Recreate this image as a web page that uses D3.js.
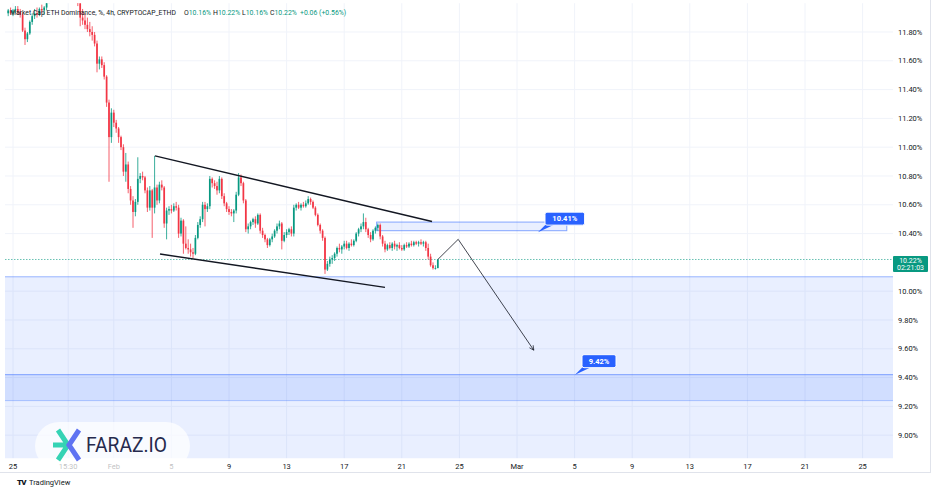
<!DOCTYPE html>
<html lang="en">
<head>
	<meta charset="utf-8">
	<title>ETH Dominance 4h</title>
	<script src='https://d3js.org/d3.v7.min.js'></script>
	<style>
		body { margin: 0; background: #fff; }
		text { font-family: Roboto, "Noto Sans", sans-serif; }
	</style>
</head>
<body>
	<div id="chart"></div>
	<script>
		// 4h candles, first one opens 2025-01-24 16:00 UTC
		let firstCandle = Date.UTC(2025, 0, 24, 16);
		let open = [
			11.93,11.95,11.93,11.95,11.96,11.94,11.92,11.81,11.75,11.79,
			11.87,11.91,11.93,11.92,11.96,11.95,11.97,12.02,12.06,12.10,
			12.13,12.11,12.14,12.17,12.15,12.12,12.09,12.11,12.06,12.03,
			12.00,11.90,11.88,11.85,11.82,11.80,11.78,11.72,11.58,11.61,
			11.57,11.49,11.31,11.07,11.24,11.17,11.13,11.07,11.00,10.83,
			10.88,10.71,10.63,10.55,10.62,10.78,10.80,10.79,10.70,10.58,
			10.70,10.58,10.72,10.63,10.74,10.72,10.47,10.56,10.57,10.56,
			10.59,10.58,10.40,10.49,10.33,10.30,10.29,10.27,10.26,10.37,
			10.46,10.50,10.60,10.57,10.59,10.78,10.75,10.73,10.70,10.78,
			10.66,10.61,10.57,10.55,10.54,10.56,10.67,10.79,10.75,10.63,
			10.43,10.45,10.48,10.50,10.47,10.53,10.42,10.39,10.36,10.32,
			10.36,10.38,10.42,10.45,10.47,10.35,10.39,10.41,10.43,10.40,
			10.58,10.60,10.58,10.60,10.59,10.61,10.64,10.62,10.58,10.53,
			10.46,10.42,10.37,10.15,10.19,10.22,10.23,10.26,10.30,10.29,
			10.31,10.33,10.30,10.33,10.32,10.35,10.40,10.43,10.45,10.48,
			10.43,10.39,10.36,10.42,10.44,10.46,10.38,10.33,10.29,10.32,
			10.30,10.33,10.31,10.32,10.30,10.29,10.32,10.31,10.33,10.32,
			10.34,10.33,10.34,10.33,10.34,10.30,10.24,10.18,10.16,10.16];
		let high = [
			11.96,11.97,11.96,11.98,11.98,11.96,11.93,11.83,11.80,11.88,
			11.93,11.96,11.97,11.97,11.99,11.98,12.03,12.08,12.12,12.15,
			12.18,12.16,12.20,12.21,12.19,12.16,12.13,12.14,12.09,12.06,
			12.02,11.96,11.93,11.90,11.87,11.84,11.80,11.74,11.63,11.63,
			11.59,11.50,11.33,11.27,11.26,11.19,11.14,11.08,11.02,10.96,
			10.90,10.73,10.66,10.64,10.93,10.82,10.83,10.80,10.72,10.73,
			10.71,10.94,10.74,10.76,10.77,10.73,10.58,10.59,10.60,10.61,
			10.62,10.60,10.51,10.50,10.45,10.36,10.33,10.30,10.39,10.48,
			10.52,10.62,10.62,10.61,10.80,10.79,10.77,10.76,10.80,10.79,
			10.68,10.62,10.59,10.57,10.57,10.69,10.82,10.81,10.76,10.64,
			10.47,10.49,10.51,10.52,10.54,10.54,10.44,10.40,10.37,10.37,
			10.40,10.43,10.47,10.49,10.48,10.41,10.43,10.44,10.45,10.60,
			10.61,10.62,10.61,10.62,10.63,10.66,10.65,10.63,10.59,10.54,
			10.47,10.43,10.38,10.21,10.24,10.25,10.27,10.31,10.33,10.32,
			10.35,10.35,10.34,10.36,10.36,10.41,10.44,10.47,10.54,10.51,
			10.44,10.41,10.43,10.45,10.47,10.47,10.39,10.35,10.33,10.34,
			10.34,10.35,10.33,10.34,10.32,10.33,10.34,10.34,10.35,10.35,
			10.35,10.35,10.36,10.35,10.35,10.33,10.26,10.20,10.18,10.22];
		let low = [
			11.91,11.92,11.91,11.93,11.92,11.90,11.80,11.71,11.73,11.78,
			11.85,11.89,11.90,11.91,11.93,11.92,11.95,12.00,12.04,12.07,
			12.09,12.08,12.12,12.12,12.10,12.07,12.05,12.04,12.01,11.98,
			11.84,11.85,11.82,11.80,11.77,11.74,11.70,11.52,11.54,11.55,
			11.47,11.28,10.76,11.03,11.14,11.10,11.03,10.98,10.80,10.76,
			10.68,10.60,10.44,10.52,10.60,10.75,10.77,10.68,10.55,10.56,
			10.37,10.54,10.60,10.61,10.70,10.44,10.36,10.53,10.54,10.55,
			10.56,10.37,10.38,10.26,10.29,10.26,10.24,10.23,10.25,10.36,
			10.44,10.48,10.45,10.55,10.57,10.72,10.71,10.67,10.68,10.64,
			10.59,10.55,10.53,10.52,10.48,10.54,10.66,10.73,10.61,10.41,
			10.40,10.43,10.46,10.44,10.46,10.40,10.37,10.34,10.30,10.31,
			10.34,10.37,10.40,10.43,10.29,10.34,10.37,10.39,10.38,10.38,
			10.56,10.57,10.56,10.58,10.58,10.60,10.60,10.57,10.52,10.45,
			10.40,10.35,10.12,10.14,10.17,10.19,10.21,10.24,10.27,10.26,
			10.29,10.29,10.28,10.31,10.31,10.34,10.38,10.41,10.43,10.41,
			10.37,10.34,10.35,10.40,10.42,10.36,10.31,10.27,10.28,10.29,
			10.28,10.29,10.28,10.29,10.28,10.28,10.30,10.30,10.31,10.31,
			10.32,10.31,10.32,10.31,10.28,10.22,10.17,10.15,10.15,10.16];
		let close = [
			11.95,11.93,11.95,11.96,11.94,11.92,11.81,11.75,11.79,11.87,
			11.91,11.93,11.92,11.96,11.95,11.97,12.02,12.06,12.10,12.13,
			12.11,12.14,12.17,12.15,12.12,12.09,12.11,12.06,12.03,12.00,
			11.90,11.88,11.85,11.82,11.80,11.78,11.72,11.58,11.61,11.57,
			11.49,11.31,11.07,11.24,11.17,11.13,11.07,11.00,10.83,10.88,
			10.71,10.63,10.55,10.62,10.78,10.80,10.79,10.70,10.58,10.70,
			10.58,10.72,10.63,10.74,10.72,10.47,10.56,10.57,10.56,10.59,
			10.58,10.40,10.49,10.33,10.30,10.29,10.27,10.26,10.37,10.46,
			10.50,10.60,10.57,10.59,10.78,10.75,10.73,10.70,10.78,10.66,
			10.61,10.57,10.55,10.54,10.56,10.67,10.79,10.75,10.63,10.43,
			10.45,10.48,10.50,10.47,10.53,10.42,10.39,10.36,10.32,10.36,
			10.38,10.42,10.45,10.47,10.35,10.39,10.41,10.43,10.40,10.58,
			10.60,10.58,10.60,10.59,10.61,10.64,10.62,10.58,10.53,10.46,
			10.42,10.37,10.15,10.19,10.22,10.23,10.26,10.30,10.29,10.31,
			10.33,10.30,10.33,10.32,10.35,10.40,10.43,10.45,10.48,10.43,
			10.39,10.36,10.42,10.44,10.46,10.38,10.33,10.29,10.32,10.30,
			10.33,10.31,10.32,10.30,10.29,10.32,10.31,10.33,10.32,10.34,
			10.33,10.34,10.33,10.34,10.30,10.24,10.18,10.16,10.16,10.22];

		// axis ticks
		let yTicks = [9.0, 9.2, 9.4, 9.6, 9.8, 10.0, 10.4, 10.6, 10.8, 11.0, 11.2, 11.4, 11.6, 11.8];
		let xTickDates = ["2025-01-25T00:00Z", "2025-01-28T20:00Z", "2025-02-01T00:00Z", "2025-02-05T00:00Z",
			"2025-02-09T00:00Z", "2025-02-13T00:00Z", "2025-02-17T00:00Z", "2025-02-21T00:00Z",
			"2025-02-25T00:00Z", "2025-03-01T00:00Z", "2025-03-05T00:00Z", "2025-03-09T00:00Z",
			"2025-03-13T00:00Z", "2025-03-17T00:00Z", "2025-03-21T00:00Z", "2025-03-25T00:00Z"];
		let xTickLabels = ["25", "15:30", "Feb", "5", "9", "13", "17", "21", "25", "Mar", "5", "9", "13", "17", "21", "25"];

		// header legend
		let legendTitle = "Market Cap ETH Dominance, %, 4h, CRYPTOCAP_ETHD";
		let legendKeys = ["O", "H", "L", "C"];
		let legendValues = ["10.16%", "10.22%", "10.16%", "10.22%"];
		let legendChange = "+0.06 (+0.56%)";
		let lastPrice = 10.22;
		let countdown = "02:21:03";

		// drawings
		let channelTop = [["2025-02-03T20:40Z", 10.94], ["2025-02-23T02:20Z", 10.484]];
		let channelBottom = [["2025-02-04T05:00Z", 10.258], ["2025-02-19T20:00Z", 10.026]];
		let projection = [["2025-02-23T12:00Z", 10.22], ["2025-02-24T22:00Z", 10.36], ["2025-03-02T04:00Z", 9.59]];
		let resistanceBox = { from: "2025-02-19T06:00Z", to: "2025-03-04T11:00Z", top: 10.48, bottom: 10.42 };
		let supportZone = [10.10, 8.5];
		let targetBand = [9.42, 9.24];
		let callouts = [
			{ date: "2025-03-02T11:00Z", value: 10.41, text: "10.41%" },
			{ date: "2025-03-05T00:40Z", value: 9.42, text: "9.42%" }
		];

		let width = 936, height = 492;
		let plotL = 5, plotR = 893, plotT = 3.2, plotB = 458.2;
		let green = "#089981", red = "#f23645", blue = "#2962ff";

		let svg = d3.select("#chart").append("svg")
			.attr("width", width).attr("height", height);

		let x = d3.scaleUtc()
			.domain([new Date(Date.UTC(2025, 0, 24, 10, 40)), new Date(Date.UTC(2025, 2, 27, 2, 40))])
			.range([plotL, plotR]);
		let y = d3.scaleLinear().domain([8.84, 12.0]).range([plotB, plotT]);

		svg.append("clipPath").attr("id", "plotClip")
			.append("rect").attr("x", plotL).attr("y", plotT)
			.attr("width", plotR - plotL).attr("height", plotB - plotT);

		// frame
		svg.append("line").attr("x1", 0).attr("x2", 931).attr("y1", 472.5).attr("y2", 472.5).attr("stroke", "#e0e3eb");
		svg.append("line").attr("x1", 930.5).attr("x2", 930.5).attr("y1", 0).attr("y2", 473).attr("stroke", "#e0e3eb");

		// grid
		let grid = svg.append("g");
		grid.selectAll("line.h").data(yTicks).enter().append("line")
			.attr("x1", plotL).attr("x2", plotR)
			.attr("y1", d => y(d)).attr("y2", d => y(d))
			.attr("stroke", "#f0f3fa");
		grid.selectAll("line.v").data(xTickDates).enter().append("line")
			.attr("x1", d => x(new Date(d))).attr("x2", d => x(new Date(d)))
			.attr("y1", plotT).attr("y2", plotB)
			.attr("stroke", "#f0f3fa");

		let plot = svg.append("g").attr("clip-path", "url(#plotClip)");

		// support zone and target band
		plot.append("rect")
			.attr("x", plotL).attr("width", plotR - plotL)
			.attr("y", y(supportZone[0])).attr("height", y(supportZone[1]) - y(supportZone[0]))
			.attr("fill", blue).attr("fill-opacity", 0.1);
		plot.append("line")
			.attr("x1", plotL).attr("x2", plotR)
			.attr("y1", y(supportZone[0])).attr("y2", y(supportZone[0]))
			.attr("stroke", blue).attr("stroke-opacity", 0.45);
		plot.append("rect")
			.attr("x", plotL).attr("width", plotR - plotL)
			.attr("y", y(targetBand[0])).attr("height", y(targetBand[1]) - y(targetBand[0]))
			.attr("fill", blue).attr("fill-opacity", 0.12);
		plot.append("line")
			.attr("x1", plotL).attr("x2", plotR)
			.attr("y1", y(targetBand[0])).attr("y2", y(targetBand[0]))
			.attr("stroke", blue).attr("stroke-opacity", 0.55);
		plot.append("line")
			.attr("x1", plotL).attr("x2", plotR)
			.attr("y1", y(targetBand[1])).attr("y2", y(targetBand[1]))
			.attr("stroke", blue).attr("stroke-opacity", 0.3);

		// resistance box
		plot.append("rect")
			.attr("x", x(new Date(resistanceBox.from)))
			.attr("width", x(new Date(resistanceBox.to)) - x(new Date(resistanceBox.from)))
			.attr("y", y(resistanceBox.top))
			.attr("height", y(resistanceBox.bottom) - y(resistanceBox.top))
			.attr("fill", blue).attr("fill-opacity", 0.1)
			.attr("stroke", blue).attr("stroke-opacity", 0.55);

		// last price dotted line
		plot.append("line")
			.attr("x1", plotL).attr("x2", plotR)
			.attr("y1", y(lastPrice)).attr("y2", y(lastPrice))
			.attr("stroke", green).attr("stroke-opacity", 0.6)
			.attr("stroke-dasharray", "1.5,1.5");

		// candles
		let candles = close.map((c, i) => ({
			t: new Date(firstCandle + i * 4 * 3600 * 1000),
			o: open[i], h: high[i], l: low[i], c: c
		}));
		let bodyW = 1.7;
		let cg = plot.selectAll("g.candle").data(candles).enter().append("g");
		cg.append("line")
			.attr("x1", d => x(d.t)).attr("x2", d => x(d.t))
			.attr("y1", d => y(d.h)).attr("y2", d => y(d.l))
			.attr("stroke", d => d.c >= d.o ? green : red)
			.attr("stroke-width", 0.8);
		cg.append("rect")
			.attr("x", d => x(d.t) - bodyW / 2).attr("width", bodyW)
			.attr("y", d => y(Math.max(d.o, d.c)))
			.attr("height", d => Math.max(0.8, Math.abs(y(d.o) - y(d.c))))
			.attr("fill", d => d.c >= d.o ? green : red);

		// channel lines
		let line = d3.line().x(d => x(new Date(d[0]))).y(d => y(d[1]));
		plot.append("path").attr("d", line(channelTop))
			.attr("fill", "none").attr("stroke", "#131722").attr("stroke-width", 1.4);
		plot.append("path").attr("d", line(channelBottom))
			.attr("fill", "none").attr("stroke", "#131722").attr("stroke-width", 1.4);

		// projected path with arrow
		svg.append("defs").append("marker")
			.attr("id", "arrow").attr("viewBox", "0 0 10 10")
			.attr("refX", 9).attr("refY", 5)
			.attr("markerWidth", 7).attr("markerHeight", 7)
			.attr("orient", "auto")
			.append("path").attr("d", "M1,1L9,5L1,9")
			.attr("fill", "none").attr("stroke", "#131722").attr("stroke-width", 1.2);
		plot.append("path").attr("d", line(projection))
			.attr("fill", "none").attr("stroke", "#131722").attr("stroke-width", 0.8)
			.attr("marker-end", "url(#arrow)");

		// price callouts
		callouts.forEach(function(c) {
			let px = x(new Date(c.date)), py = y(c.value);
			let w = c.text.length * 5.6 + 6, h = 13;
			let bx = px + 7, by = py - 20;
			let g = plot.append("g");
			g.append("path")
				.attr("d", "M" + (bx + 1) + "," + (by + h - 1) + "L" + px + "," + py + "L" + (bx + 10) + "," + (by + h - 1) + "Z")
				.attr("fill", blue);
			g.append("rect")
				.attr("x", bx).attr("y", by).attr("width", w).attr("height", h)
				.attr("rx", 2).attr("fill", blue)
				.attr("stroke", "#fff").attr("stroke-width", 1);
			g.append("text")
				.attr("x", bx + w / 2).attr("y", by + h / 2 + 2.6)
				.attr("text-anchor", "middle")
				.attr("font-size", 7.5).attr("font-weight", 700)
				.attr("fill", "#fff").text(c.text);
		});

		// price axis
		svg.append("g").selectAll("text").data(yTicks).enter().append("text")
			.attr("x", 898).attr("y", d => y(d) + 2.6)
			.attr("font-size", 7.5).attr("fill", "#131722")
			.text(d => d.toFixed(2) + "%");

		// last price tag
		let tagY = y(lastPrice) - 3.5;
		svg.append("rect").attr("x", 893).attr("y", tagY).attr("width", 35).attr("height", 16)
			.attr("rx", 1).attr("fill", green);
		svg.append("text").attr("x", 910.5).attr("y", tagY + 6.8)
			.attr("text-anchor", "middle").attr("font-size", 7).attr("fill", "#fff")
			.text(lastPrice.toFixed(2) + "%");
		svg.append("text").attr("x", 910.5).attr("y", tagY + 14)
			.attr("text-anchor", "middle").attr("font-size", 7).attr("fill", "#fff")
			.text(countdown);

		// time axis
		svg.append("g").selectAll("text").data(xTickDates).enter().append("text")
			.attr("x", d => x(new Date(d))).attr("y", 468.5)
			.attr("text-anchor", "middle")
			.attr("font-size", 7.5).attr("fill", "#131722")
			.text((d, i) => xTickLabels[i]);

		// header legend
		let legend = svg.append("g");
		legend.append("text").attr("x", 10).attr("y", 15).attr("fill", "#131722")
			.attr("font-size", 6.8)
			.text(legendTitle);
		let keyX = [184, 213, 242, 270];
		legendKeys.forEach(function(k, i) {
			let t = legend.append("text").attr("x", keyX[i]).attr("y", 15).attr("font-size", 6.9);
			t.append("tspan").attr("fill", "#131722").text(k);
			t.append("tspan").attr("fill", green).text(legendValues[i]);
		});
		legend.append("text").attr("x", 300).attr("y", 15).attr("fill", green)
			.attr("font-size", 6.9)
			.text(legendChange);

		// watermark logo
		svg.append("rect").attr("x", 35).attr("y", 422).attr("width", 155).attr("height", 48)
			.attr("rx", 24).attr("fill", "#fff").attr("fill-opacity", 0.72);
		let logo = svg.append("g");
		logo.append("path").attr("d", "M58,430L68,445L58,460M53,445L68,445")
			.attr("fill", "none").attr("stroke", "#35d3b4").attr("stroke-width", 5);
		logo.append("path").attr("d", "M79,430L69,445L79,460")
			.attr("fill", "none").attr("stroke", "#5f73f2").attr("stroke-width", 5);
		logo.append("text").attr("x", 86).attr("y", 452)
			.attr("font-size", 20).attr("fill", "#262a4d")
			.attr("textLength", 81).attr("lengthAdjust", "spacingAndGlyphs")
			.text("FARAZ.IO");

		// footer
		svg.append("text").attr("x", 17).attr("y", 485)
			.attr("font-size", 8).attr("font-weight", 900).attr("fill", "#131722")
			.attr("letter-spacing", -0.8).text("TV");
		svg.append("text").attr("x", 29).attr("y", 485)
			.attr("font-size", 7.5).attr("fill", "#131722").text("TradingView");
	</script>
</body>
</html>
